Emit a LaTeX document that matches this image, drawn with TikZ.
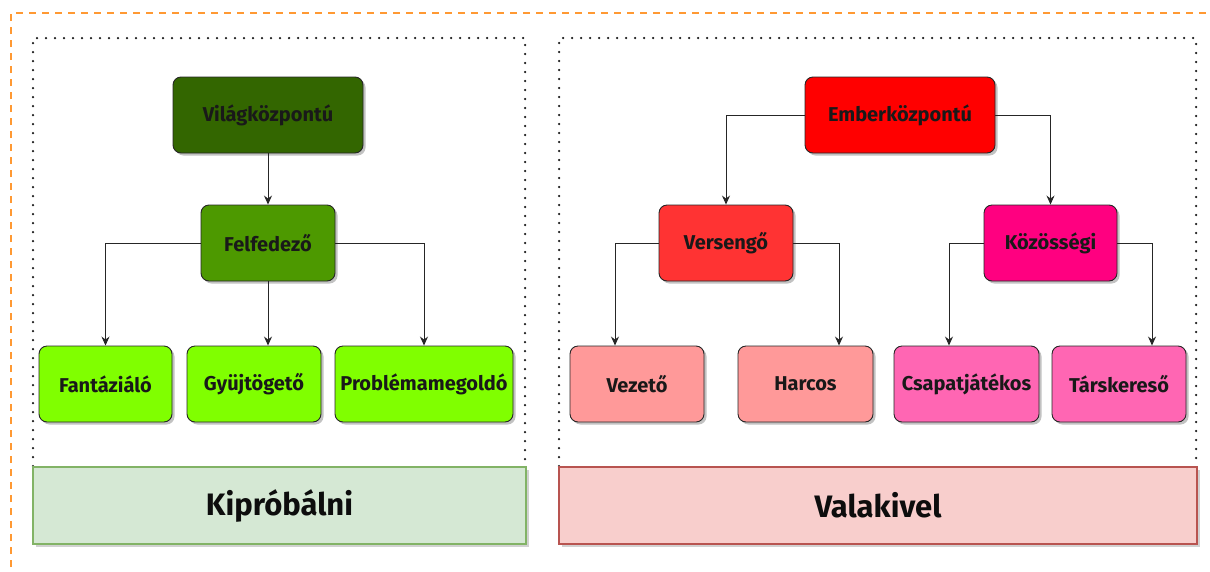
\documentclass[tikz,border=0pt]{standalone}
\usepackage{fontspec}
\setmainfont{Fira Sans}
\usetikzlibrary{shadows,arrows.meta}

\definecolor{frameorange}{HTML}{FF9933}
\definecolor{darkgreen}{HTML}{336600}
\definecolor{midgreen}{HTML}{4D9900}
\definecolor{lightgreen}{HTML}{80FF00}
\definecolor{red1}{HTML}{FF0000}
\definecolor{red2}{HTML}{FF3333}
\definecolor{red3}{HTML}{FF9999}
\definecolor{pink1}{HTML}{FF0080}
\definecolor{pink2}{HTML}{FF66B3}
\definecolor{greenbarfill}{HTML}{D5E8D4}
\definecolor{greenbarline}{HTML}{82B366}
\definecolor{redbarfill}{HTML}{F8CECC}
\definecolor{redbarline}{HTML}{B85450}

\tikzset{
  box/.style={draw=black!85, line width=0.9pt, rounded corners=8pt,
    minimum height=76pt, inner sep=2pt, font=\bfseries\fontsize{20}{24}\selectfont,
    text=black!90,
    drop shadow={shadow xshift=2.5pt, shadow yshift=-2.5pt, fill=black!40, opacity=0.6}},
  bar/.style={line width=2.5pt, font=\bfseries\fontsize{31}{36}\selectfont, text=black!95,
    drop shadow={shadow xshift=3pt, shadow yshift=-3pt, fill=black!30, opacity=0.6}},
  group/.style={draw=black!90, line width=2.5pt, dash pattern=on 0pt off 9pt, line cap=round},
  link/.style={draw=black!85, line width=0.9pt, -{Stealth[length=9pt,width=8pt,inset=3pt]}}
}

\begin{document}
\begin{tikzpicture}[x=1pt,y=-1pt]
\useasboundingbox (0,0) rectangle (1210,571);
\begin{scope}
\clip (0,0) rectangle (1210,571);
\draw[frameorange, line width=2.2pt, dash pattern=on 7pt off 6pt] (11,580) -- (11,13) -- (1220,13);
\end{scope}

% group frames
\draw[group] (33,466) -- (33,38) -- (525,38) -- (525,466);
\draw[group] (559,466) -- (559,38) -- (1196,38) -- (1196,466);

% footer bars
\node[bar, draw=greenbarline, fill=greenbarfill, minimum width=493pt, minimum height=77pt] (kip) at (279.5,505.5) {Kipróbálni};
\node[bar, draw=redbarline, fill=redbarfill, minimum width=638pt, minimum height=77pt] (val) at (878,505.5) {Valakivel};

% left tree
\node[box, fill=darkgreen, minimum width=190pt] (vil) at (268,115) {Világközpontú};
\node[box, fill=midgreen, minimum width=134pt] (fel) at (268,243) {Felfedező};
\node[box, fill=lightgreen, minimum width=133pt] (fan) at (105.5,384) {Fantáziáló};
\node[box, fill=lightgreen, minimum width=134pt] (gyu) at (254,384) {Gyüjtögető};
\node[box, fill=lightgreen, minimum width=178pt] (pro) at (424,384) {Problémamegoldó};

% right tree
\node[box, fill=red1, minimum width=190pt] (emb) at (900,115) {Emberközpontú};
\node[box, fill=red2, minimum width=134pt] (ver) at (726,243) {Versengő};
\node[box, fill=pink1, minimum width=133pt] (koz) at (1050.5,243) {Közösségi};
\node[box, fill=red3, minimum width=134pt] (vez) at (637,384) {Vezető};
\node[box, fill=red3, minimum width=135pt] (har) at (805.5,384) {Harcos};
\node[box, fill=pink2, minimum width=145pt] (csa) at (966.5,384) {Csapatjátékos};
\node[box, fill=pink2, minimum width=134pt] (tar) at (1119,384) {Társkereső};

% connectors
\draw[link] (vil.south) -- (fel.north);
\draw[link] (fel.west) -| (fan.north);
\draw[link] (fel.south) -- (fel.south |- gyu.north);
\draw[link] (fel.east) -| (pro.north);

\draw[link] (emb.west) -| (ver.north);
\draw[link] (emb.east) -| (koz.north);
\draw[link] (ver.west) -| ([xshift=-22pt]vez.north);
\draw[link] (ver.east) -| ([xshift=33.5pt]har.north);
\draw[link] (koz.west) -| ([xshift=-17.5pt]csa.north);
\draw[link] (koz.east) -| ([xshift=33pt]tar.north);
\end{tikzpicture}
\end{document}
